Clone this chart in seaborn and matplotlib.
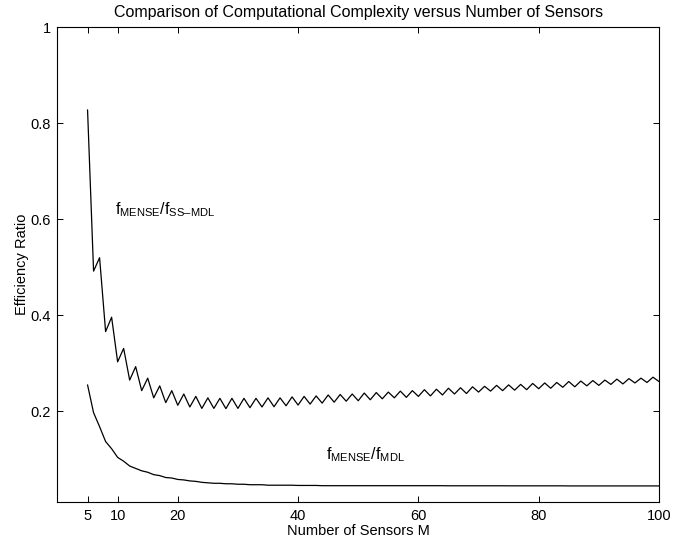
import numpy as np
import pandas as pd
import seaborn as sns
import matplotlib
matplotlib.use("Agg")
import matplotlib.pyplot as plt

# number of sensors M = 5..100
sensors = list(range(5, 101))

# f_MENSE / f_SS-MDL  (odd M peaks, even M troughs)
ratio_ss_mdl = [
    0.828, 0.492, 0.520, 0.366, 0.396, 0.303, 0.331, 0.265, 0.293, 0.243,
    0.269, 0.228, 0.253, 0.218, 0.243, 0.2125, 0.236, 0.209, 0.231, 0.206,
    0.228, 0.206, 0.227, 0.2055, 0.227, 0.206, 0.227, 0.2075, 0.227, 0.209,
    0.228, 0.2095, 0.228, 0.2115, 0.230, 0.213, 0.231, 0.215, 0.232, 0.217,
    0.234, 0.219, 0.235, 0.221, 0.236, 0.222, 0.238, 0.224, 0.239, 0.226,
    0.240, 0.228, 0.242, 0.229, 0.243, 0.231, 0.245, 0.232, 0.246, 0.234,
    0.248, 0.236, 0.249, 0.237, 0.251, 0.240, 0.252, 0.242, 0.254, 0.243,
    0.255, 0.244, 0.256, 0.245, 0.258, 0.247, 0.259, 0.248, 0.260, 0.250,
    0.262, 0.251, 0.263, 0.253, 0.264, 0.254, 0.265, 0.256, 0.267, 0.257,
    0.268, 0.259, 0.269, 0.260, 0.271, 0.262,
]

# f_MENSE / f_MDL
ratio_mdl = [
    0.255, 0.197, 0.168, 0.137, 0.122, 0.104, 0.096, 0.086, 0.081, 0.076,
    0.073, 0.068, 0.066, 0.062, 0.061, 0.058, 0.057, 0.055, 0.054, 0.052,
    0.051, 0.050, 0.050, 0.049, 0.049, 0.048, 0.048, 0.047, 0.047, 0.047,
    0.046, 0.046, 0.046, 0.046, 0.046, 0.0455, 0.0455, 0.0455, 0.0455, 0.045,
    0.045, 0.045, 0.045, 0.045, 0.045, 0.045, 0.045, 0.045, 0.045, 0.045,
    0.045, 0.045, 0.045, 0.045, 0.045, 0.045, 0.045, 0.045, 0.045, 0.045,
    0.0448, 0.0448, 0.0448, 0.0448, 0.0448, 0.0448, 0.0448, 0.0448, 0.0448, 0.0448,
    0.0447, 0.0447, 0.0447, 0.0447, 0.0447, 0.0447, 0.0447, 0.0447, 0.0447, 0.0447,
    0.0445, 0.0445, 0.0445, 0.0445, 0.0445, 0.0445, 0.0445, 0.0445, 0.0445, 0.0445,
    0.0445, 0.0445, 0.0445, 0.0445, 0.0445, 0.0445,
]

x_ticks = [5, 10, 20, 40, 60, 80, 100]
y_ticks = [0.2, 0.4, 0.6, 0.8, 1]

df = pd.DataFrame({"M": sensors, "ss_mdl": ratio_ss_mdl, "mdl": ratio_mdl})

sns.set_style("ticks", {"axes.edgecolor": "black", "text.color": "black",
                        "xtick.color": "black", "ytick.color": "black",
                        "axes.labelcolor": "black"})
plt.rcParams["font.family"] = ["Liberation Sans", "DejaVu Sans"]
plt.rcParams["mathtext.fontset"] = "custom"
plt.rcParams["mathtext.rm"] = "Liberation Sans"
plt.rcParams["xtick.direction"] = "in"
plt.rcParams["ytick.direction"] = "in"

fig = plt.figure(figsize=(6.95, 5.42), dpi=100)
ax = fig.add_axes([0.0827, 0.0744, 0.8655, 0.8753])

sns.lineplot(data=df, x="M", y="ss_mdl", color="black", lw=0.9, ax=ax)
sns.lineplot(data=df, x="M", y="mdl", color="black", lw=0.9, ax=ax)

ax.text(9.6, 0.611, "$\\mathregular{f_{MENSE}/f_{SS\u2013MDL}}$", fontsize=11.5, color="black")
ax.text(44.6, 0.099, r"$\mathregular{f_{MENSE}/f_{MDL}}$", fontsize=11.5, color="black")

ax.set_xlim(0, 100)
ax.set_ylim(0.0117, 1)
ax.set_xticks(x_ticks)
ax.set_xticklabels([str(t) for t in x_ticks])
ax.set_yticks(y_ticks)
ax.set_yticklabels(["0.2", "0.4", "0.6", "0.8", "1"])
ax.tick_params(top=True, right=True, length=4, width=0.7, labelsize=10.5, pad=5)
for s in ax.spines.values():
    s.set_linewidth(0.8)
    s.set_visible(True)

ax.set_xlabel("Number of Sensors M", fontsize=10.5, labelpad=1)
ax.set_ylabel("Efficiency Ratio", fontsize=10.5, labelpad=0.5)
ax.set_title("Comparison of Computational Complexity versus Number of Sensors", fontsize=11.5, pad=7.5)

fig.savefig("out.png", dpi=100)
